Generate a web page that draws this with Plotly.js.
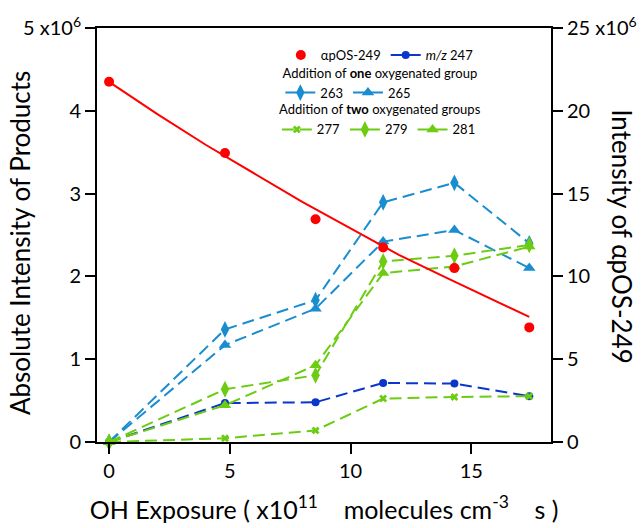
<!DOCTYPE html>
<html><head><meta charset="utf-8">
<script src="https://cdn.plot.ly/plotly-3.0.1.min.js"></script>
<style>html,body{margin:0;padding:0;background:#fff}</style>
</head><body><div id="chart" style="width:641px;height:528px"></div>
<script>
// OH exposure (x10^11 molecules cm^-3 s)
const exposure = [0, 4.8, 8.55, 11.35, 14.3, 17.4];
// αpOS-249 intensity (x10^6, right axis)
const apos249 = [21.75, 17.45, 13.45, 11.75, 10.5, 6.92];
// fitted decay curve (x10^6, right axis)
const fitX = [0, 2, 4, 6, 8, 10, 12, 14, 16, 17.4];
const fitY = [21.75, 19.8, 17.95, 16.2, 14.5, 12.9, 11.3, 9.9, 8.5, 7.55];
// products (x10^6, left axis)
const mz247 = [0, 0.47, 0.48, 0.713, 0.706, 0.553];
const mz263 = [0, 1.36, 1.713, 2.895, 3.13, 2.40];
const mz265 = [0, 1.17, 1.61, 2.42, 2.56, 2.10];
const mz277 = [0, 0.045, 0.14, 0.525, 0.544, 0.553];
const mz279 = [0, 0.637, 0.806, 2.18, 2.25, 2.38];
const mz281 = [0, 0.444, 0.927, 2.04, 2.12, 2.36];
const xTicks = [0, 5, 10, 15];
const leftTicks = [0, 1, 2, 3, 4, 5];
const leftTickText = ['0', '1', '2', '3', '4', '5 x10<sup>6</sup>'];
const rightTicks = [0, 5, 10, 15, 20, 25];
const rightTickText = ['0', '5', '10', '15', '20', '25 x10<sup>6</sup>'];

const RED = '#ff0000', DBLUE = '#0b36cc', LBLUE = '#1a8dd0', GREEN = '#6ccc12';
const DASH = '12px,6px';

function prod(name, y, color, symbol, size, legend) {
  return {
    x: exposure, y: y, name: name, type: 'scatter', mode: 'lines+markers',
    line: {color: color, width: 2, dash: DASH},
    marker: {color: color, symbol: symbol, size: size},
    cliponaxis: false, legend: legend, xaxis: 'x', yaxis: 'y'
  };
}

const traces = [
  prod('263', mz263, LBLUE, 'diamond-tall', 12, 'legend2'),
  prod('265', mz265, LBLUE, 'triangle-up', 11, 'legend2'),
  prod('<i>m/z</i> 247', mz247, DBLUE, 'circle', 8, 'legend'),
  prod('277', mz277, GREEN, 'x', 7, 'legend3'),
  prod('279', mz279, GREEN, 'diamond-tall', 12, 'legend3'),
  prod('281', mz281, GREEN, 'triangle-up', 11, 'legend3'),
  {x: fitX, y: fitY, type: 'scatter', mode: 'lines', line: {color: RED, width: 2},
   showlegend: false, yaxis: 'y2', hoverinfo: 'skip'},
  {x: exposure, y: apos249, name: 'αpOS-249', type: 'scatter', mode: 'markers',
   marker: {color: RED, size: 10}, cliponaxis: false, yaxis: 'y2', legend: 'legend'}
];
const axisCommon = {
  ticks: 'outside', ticklen: 10, tickwidth: 2, tickcolor: '#000',
  showline: true, linewidth: 2, linecolor: '#000',
  showgrid: false, zeroline: false, automargin: false,
  tickfont: {size: 20, color: '#000'}
};
const legendCommon = {
  orientation: 'h', xanchor: 'center', yanchor: 'top', x: 0.623,
  bgcolor: 'rgba(0,0,0,0)', borderwidth: 0,
  font: {size: 13, color: '#000'}, itemwidth: 30, tracegroupgap: 0,
  traceorder: 'normal'
};
const layout = {
  width: 641, height: 528,
  margin: {l: 97, r: 90, t: 28, b: 86},
  paper_bgcolor: '#fff', plot_bgcolor: '#fff',
  font: {family: 'Lato, "Open Sans", sans-serif', color: '#000'},
  showlegend: true,
  xaxis: Object.assign({}, axisCommon, {
    range: [-0.5, 18.3], tickvals: xTicks, mirror: true,
    title: {text: 'OH Exposure ( x10<sup>11</sup>\u00a0\u00a0\u00a0 molecules cm<sup>-3</sup>\u00a0\u00a0\u00a0 s )',
            font: {size: 25, color: '#000'}, standoff: 20}
  }),
  yaxis: Object.assign({}, axisCommon, {
    range: [0, 5], tickvals: leftTicks, ticktext: leftTickText
  }),
  yaxis2: Object.assign({}, axisCommon, {
    overlaying: 'y', side: 'right', anchor: 'x',
    range: [0, 25], tickvals: rightTicks, ticktext: rightTickText
  }),
  legend: Object.assign({}, legendCommon, {y: 0.971, traceorder: 'reversed'}),
  legend2: Object.assign({}, legendCommon, {y: 0.921,
    title: {text: 'Addition of <b>one</b> oxygenated group', side: 'top center', font: {size: 13, color: '#000'}}}),
  legend3: Object.assign({}, legendCommon, {y: 0.832,
    title: {text: 'Addition of <b>two</b> oxygenated groups', side: 'top center', font: {size: 13, color: '#000'}}}),
  annotations: [{
    text: 'Absolute Intensity of Products', xref: 'paper', yref: 'paper', x: -0.168, y: 0.48,
    textangle: -90, showarrow: false, font: {size: 26, color: '#000'},
    xanchor: 'center', yanchor: 'middle'
  }, {
    text: 'Intensity of αpOS-249', xref: 'paper', yref: 'paper', x: 1.156, y: 0.495,
    textangle: 90, showarrow: false, font: {size: 26, color: '#000'},
    xanchor: 'center', yanchor: 'middle'
  }]
};
Plotly.newPlot('chart', traces, layout, {displayModeBar: false, staticPlot: true});
</script></body></html>
